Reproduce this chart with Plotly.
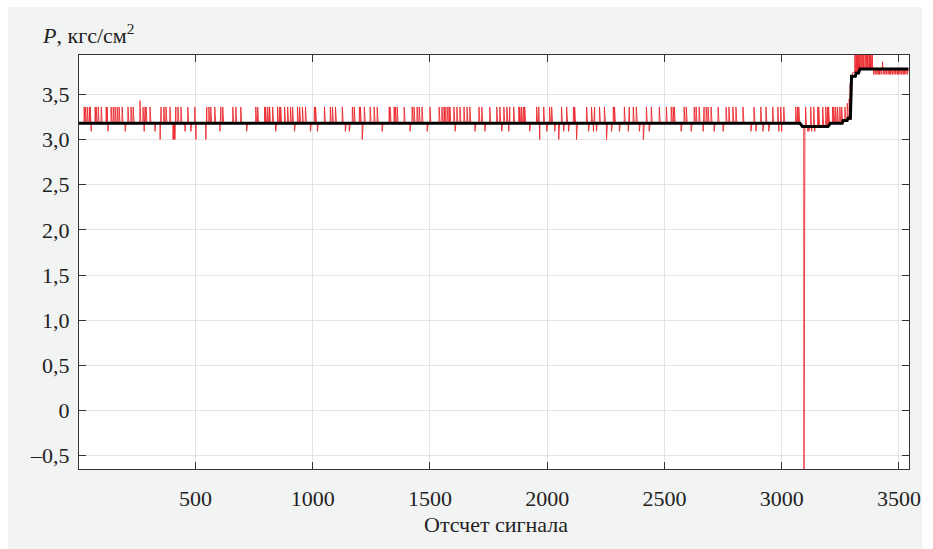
import numpy as np
import plotly.graph_objects as go

N_SAMPLES = 3540

# red signal: baseline levels per segment (start index, level)
base_starts = [1, 3081, 3201, 3265, 3296, 3302, 3330]
base_levels = [3.18, 3.15, 3.18, 3.22, 3.70, 3.74, 3.79]

# upward spikes to 3.36
up_idx = [25, 30, 38, 47, 51, 55, 72, 76, 85, 98, 119, 123, 127, 140, 149, 157, 166, 174, 187, 200,
          212, 225, 234, 276, 285, 289, 306, 327, 353, 365, 374, 391, 412, 416, 425, 438, 455, 467,
          480, 497, 548, 557, 565, 582,
          604, 608, 616, 659, 672, 693, 757, 765, 795, 799, 808, 816, 829, 842, 850, 859, 863, 880,
          893, 905, 914, 922, 935, 944, 956, 969, 990, 1007, 1012, 1020, 1050, 1075, 1084, 1097,
          1126, 1139, 1156, 1169, 1177,
          1199, 1203, 1220, 1245, 1262, 1275, 1326, 1330, 1347, 1352, 1360, 1390, 1415, 1424, 1432,
          1445, 1454, 1466, 1488, 1500, 1539, 1551, 1560, 1564, 1573, 1581, 1585, 1602, 1615, 1628,
          1645, 1658, 1670, 1692, 1709, 1721, 1734, 1755,
          1785, 1798, 1815, 1828, 1840, 1857, 1879, 1883, 1891, 1900, 1904, 1955, 1964, 1968, 1985,
          1998, 2010, 2019, 2032, 2049, 2061, 2070, 2083, 2112, 2117, 2168, 2176, 2189, 2202, 2210,
          2223, 2244, 2253, 2274, 2282, 2287, 2308, 2329, 2350, 2367,
          2380, 2393, 2410, 2423, 2444, 2478, 2508, 2529, 2537, 2542, 2584, 2593, 2627, 2635, 2648,
          2665, 2669, 2678, 2686, 2699, 2712, 2729, 2750, 2763, 2775, 2792, 2805, 2835, 2882, 2890,
          2911, 2920, 2933, 2945, 2962, 2984, 2996, 3009, 3060, 3068, 3073,
          3102, 3124, 3137, 3154, 3158, 3175, 3188, 3196, 3200, 3217, 3222, 3230, 3238, 3248, 3256]
up_val = 3.36

# higher upward spikes
high_idx = [263, 3270, 3280, 3288, 3292, 3430]
high_val = [3.43, 3.36, 3.40, 3.45, 3.62, 3.86]

# spikes clipped at the top after the jump
top_idx = [3312, 3318, 3322, 3326, 3330, 3334, 3340, 3344, 3350, 3356, 3362, 3366, 3372, 3376, 3380, 3386]
top_val = 4.0

# downward spikes to 3.09
down_idx = [55, 127, 200, 281, 327, 455, 480, 604, 718, 842, 922, 990, 1020, 1139, 1156,
            1296, 1415, 1488, 1607, 1692, 1734, 1806, 1836, 1925, 1998, 2032, 2070, 2091, 2176,
            2197, 2210, 2274, 2308, 2346, 2393, 2435, 2571, 2614, 2665, 2712, 2750, 2869, 2890,
            2920, 2945, 2988, 3000, 3111, 3116, 3128, 3141]
down_val = 3.09

# deeper downward spikes to 3.0
deep_idx = [349, 404, 408, 412, 502, 544, 1211, 1968, 2049, 2125, 2253, 2410]
deep_val = 3.0

# single dropout sample
drop_idx = [3095]
drop_val = -1.2

# dips inside the band after the jump
band_idx = [3392, 3395, 3399, 3402, 3406, 3409, 3413, 3417, 3420, 3424, 3427, 3433, 3436, 3440,
            3443, 3447, 3450, 3454, 3457, 3461, 3465, 3468, 3472, 3475, 3479, 3482, 3486, 3489,
            3493, 3497, 3500, 3504, 3507, 3511, 3514, 3518, 3522, 3525, 3529, 3532, 3536, 3539]
band_val = 3.72

# black (filtered) signal vertices
black_x = [1, 3078, 3088, 3198, 3208, 3258, 3262, 3279, 3283, 3293, 3298, 3314, 3318, 3328, 3334, 3540]
black_y = [3.18, 3.18, 3.145, 3.145, 3.18, 3.18, 3.21, 3.21, 3.235, 3.235, 3.70, 3.70, 3.735, 3.735, 3.78, 3.78]

x_ticks = [500, 1000, 1500, 2000, 2500, 3000, 3500]
y_ticks = [-0.5, 0, 0.5, 1.0, 1.5, 2.0, 2.5, 3.0, 3.5]
y_ticktext = ["–0,5", "0", "0,5", "1,0", "1,5", "2,0", "2,5", "3,0", "3,5"]

# ---- assemble red series ----
red_x = np.arange(1, N_SAMPLES + 1)
red_y = np.zeros(N_SAMPLES)
for i, s in enumerate(base_starts):
    red_y[s - 1:] = base_levels[i]
for i in up_idx:
    red_y[i - 1] = up_val
for i, v in zip(high_idx, high_val):
    red_y[i - 1] = v
for i in top_idx:
    red_y[i - 1] = top_val
for i in down_idx:
    red_y[i - 1] = down_val
for i in deep_idx:
    red_y[i - 1] = deep_val
for i in drop_idx:
    red_y[i - 1] = drop_val
for i in band_idx:
    red_y[i - 1] = band_val

fig = go.Figure()
fig.add_trace(go.Scatter(x=red_x, y=red_y, mode="lines",
                         line=dict(color="rgba(235,35,40,0.85)", width=1), hoverinfo="skip"))
fig.add_trace(go.Scatter(x=black_x, y=black_y, mode="lines",
                         line=dict(color="black", width=3), hoverinfo="skip"))

font_family = "Liberation Serif"
axis_common = dict(ticks="inside", ticklen=7, tickcolor="#333", showline=True, mirror="ticks",
                   linecolor="#333", linewidth=1, showgrid=True, gridcolor="#e4e4e4",
                   zeroline=False, tickfont=dict(family=font_family, size=22, color="#222"))

fig.update_layout(
    width=933, height=549,
    margin=dict(l=79, r=21, t=55, b=80),
    paper_bgcolor="#f2f3f3", plot_bgcolor="white",
    showlegend=False,
    xaxis=dict(range=[3, 3543], tickvals=x_ticks, ticklabelstandoff=10, **axis_common),
    yaxis=dict(range=[-0.647, 3.935], tickvals=y_ticks, ticktext=y_ticktext,
               ticklabelstandoff=4, **axis_common),
    annotations=[
        dict(text="<i>P</i>, кгс/см<sup>2</sup>", xref="paper", yref="paper",
             x=-0.0468, y=1.05, xanchor="left", yanchor="middle", showarrow=False,
             font=dict(family=font_family, size=22, color="#222")),
        dict(text="Отсчет сигнала", xref="paper", yref="paper",
             x=0.502, y=-0.135, xanchor="center", yanchor="middle", showarrow=False,
             font=dict(family=font_family, size=22, color="#222")),
    ],
    shapes=[
        dict(type="rect", xref="paper", yref="paper", x0=-0.2, x1=1.2, y0=1.116, y1=1.3,
             fillcolor="white", line=dict(width=0)),
        dict(type="rect", xref="paper", yref="paper", x0=-0.2, x1=-0.0852, y0=-0.3, y1=1.3,
             fillcolor="white", line=dict(width=0)),
        dict(type="rect", xref="paper", yref="paper", x0=1.0156, x1=1.2, y0=-0.3, y1=1.3,
             fillcolor="white", line=dict(width=0)),
    ],
)

fig.write_html("out.html")
